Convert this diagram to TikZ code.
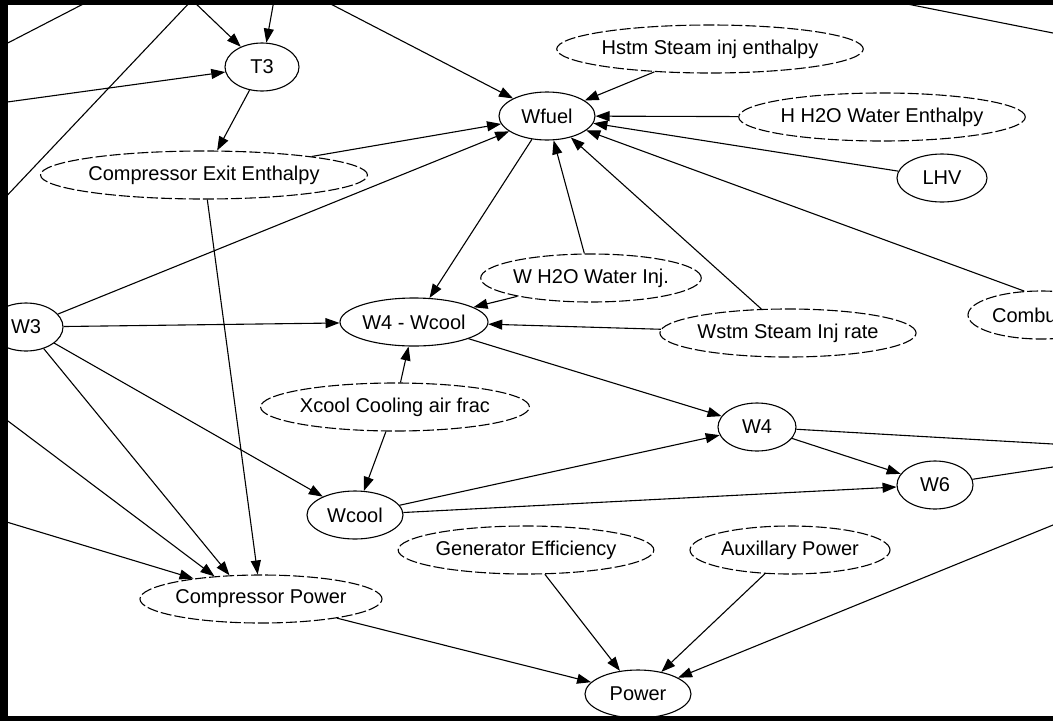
\documentclass[tikz,border=0pt]{standalone}
\usepackage{fontspec}
\setmainfont{Liberation Sans}
\usetikzlibrary{shapes}
\usetikzlibrary{arrows.meta}

\begin{document}
\begin{tikzpicture}[x=1pt,y=-1pt]
	\tikzstyle{var}=[ellipse,draw,line width=1.1pt,inner sep=0pt,minimum height=48pt,font=\fontsize{20}{24}\selectfont]
	\tikzstyle{input var} = [var, dash pattern=on 11pt off 3pt]

	\tikzstyle{link} = [draw,line width=1.1pt,-{Triangle[length=14pt,width=10pt]}]
	\tikzstyle{stub} = [draw,line width=1.1pt,-]

	\useasboundingbox (0,0) rectangle (1053,721);
	\clip (0,0) rectangle (1053,721);

	\node[var,minimum width=74pt] (t3) at (262,67) {T3};
	\node[input var,minimum width=288pt] (cexit) at (204,175) {Compressor Exit Enthalpy};
	\node[var,minimum width=96pt] (wfuel) at (547,116) {Wfuel};
	\node[input var,minimum width=274pt] (hstm) at (710,49) {Hstm Steam inj enthalpy};
	\node[input var,minimum width=250pt] (hh2o) at (882,117) {H H2O Water Enthalpy};
	\node[var,minimum width=90pt] (lhv) at (942,178) {LHV};
	\node[var,minimum width=74pt] (w3) at (26,327) {W3};
	\node[var,minimum width=148pt] (w4net) at (414,322) {W4 - Wcool};
	\node[input var,minimum width=206pt] (wh2o) at (591,278) {W H2O Water Inj.};
	\node[input var,minimum width=240pt] (wstm) at (788,333) {Wstm Steam Inj rate};
	\node[input var,minimum width=146pt] (combus) at (1041,315) {Combustor};
	\node[input var,minimum width=246pt] (xcool) at (395,407) {Xcool Cooling air frac};
	\node[var,minimum width=78pt] (w4) at (757,427) {W4};
	\node[var,minimum width=76pt] (w6) at (935,485) {W6};
	\node[var,minimum width=96pt] (wcool) at (355,515) {Wcool};
	\node[input var,minimum width=226pt] (cpower) at (261,599) {Compressor Power};
	\node[input var,minimum width=240pt] (geneff) at (526,550) {Generator Efficiency};
	\node[input var,minimum width=200pt] (auxpow) at (790,550) {Auxillary Power};
	\node[var,minimum width=106pt] (power) at (638,694) {Power};

	% ends of links that run out of view
	\coordinate (left1) at (0,47);
	\coordinate (top1) at (91,0);
	\coordinate (top2) at (192,0);
	\coordinate (left2) at (0,203);
	\coordinate (top3) at (274,0);
	\coordinate (left3) at (0,103);
	\coordinate (top4) at (323,0);
	\coordinate (top5) at (887,0);
	\coordinate (right1) at (1053,33);
	\coordinate (left4) at (0,415);
	\coordinate (left5) at (0,520);
	\coordinate (right2) at (1053,444);
	\coordinate (right3) at (1053,467);
	\coordinate (right4) at (1053,525);

	\draw[stub] (left1) -- (top1);
	\draw[link] (top2) -- (t3);
	\draw[stub] (top2) -- (left2);
	\draw[link] (top3) -- (t3);
	\draw[link] (left3) -- (t3);
	\draw[link] (t3) -- (cexit);
	\draw[link] (top4) -- (wfuel);
	\draw[link] (cexit) -- (wfuel);
	\draw[link] (w3) -- (wfuel);
	\draw[link] (hstm) -- (wfuel);
	\draw[link] (hh2o) -- (wfuel);
	\draw[link] (lhv) -- (wfuel);
	\draw[link] (combus.125) -- (wfuel);
	\draw[link] (wh2o) -- (wfuel);
	\draw[link] (wstm) -- (wfuel);
	\draw[stub] (top5) -- (right1);
	\draw[link] (wfuel) -- (w4net);
	\draw[link] (w3) -- (w4net);
	\draw[link] (wh2o) -- (w4net);
	\draw[link] (wstm) -- (w4net);
	\draw[link] (xcool) -- (w4net);
	\draw[link] (xcool) -- (wcool);
	\draw[link] (w3) -- (wcool);
	\draw[link] (w4net) -- (w4);
	\draw[link] (wcool) -- (w4);
	\draw[link] (wcool) -- (w6);
	\draw[link] (w4) -- (w6);
	\draw[stub] (w4) -- (right2);
	\draw[stub] (w6) -- (right3);
	\draw[link] (cexit) -- (cpower);
	\draw[link] (w3) -- (cpower.143);
	\draw[link] (left4) -- (cpower.154);
	\draw[link] (left5) -- (cpower);
	\draw[link] (cpower) -- (power);
	\draw[link] (geneff) -- (power);
	\draw[link] (auxpow) -- (power);
	\draw[link] (right4) -- (power);

	% window frame
	\fill[black] (0,0) rectangle (1053,5);
	\fill[black] (0,0) rectangle (8,721);
	\fill[black] (0,716) rectangle (1053,721);
\end{tikzpicture}
\end{document}
